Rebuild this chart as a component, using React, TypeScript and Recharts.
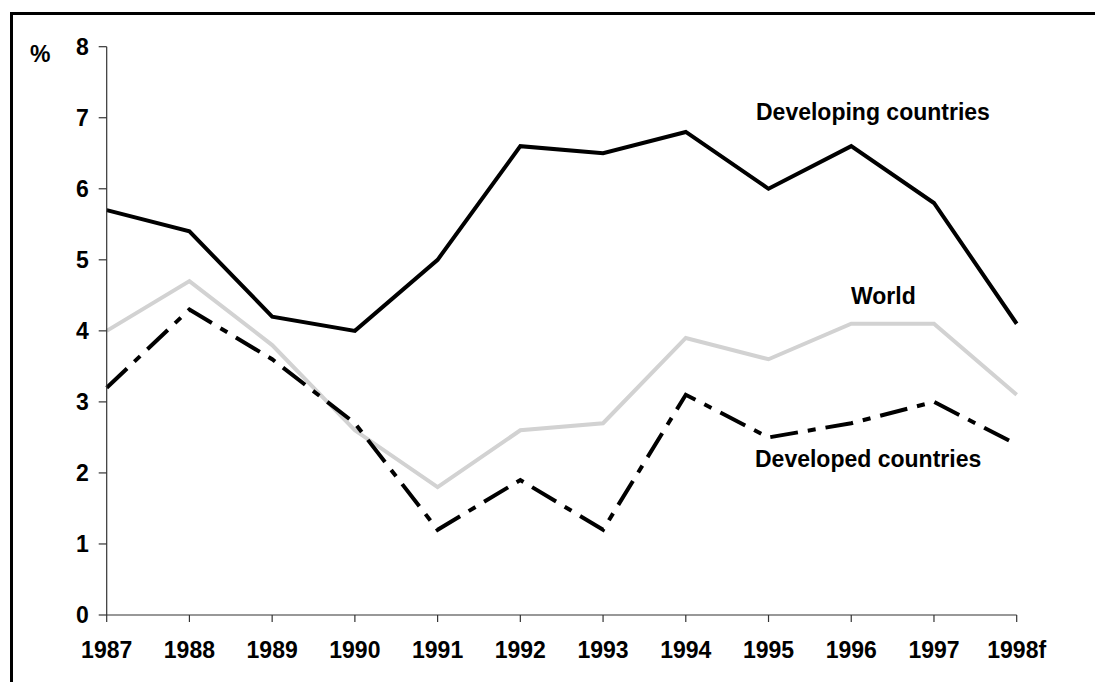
import React from 'react';
import { LineChart, Line, XAxis, YAxis } from 'recharts';

const years = ['1987', '1988', '1989', '1990', '1991', '1992', '1993', '1994', '1995', '1996', '1997', '1998f'];
const developing = [5.7, 5.4, 4.2, 4.0, 5.0, 6.6, 6.5, 6.8, 6.0, 6.6, 5.8, 4.1];
const world = [4.0, 4.7, 3.8, 2.6, 1.8, 2.6, 2.7, 3.9, 3.6, 4.1, 4.1, 3.1];
const developed = [3.2, 4.3, 3.6, 2.7, 1.2, 1.9, 1.2, 3.1, 2.5, 2.7, 3.0, 2.4];
const yTicks = [0, 1, 2, 3, 4, 5, 6, 7, 8];

const data = years.map((year, i) => ({
  year,
  developing: developing[i],
  world: world[i],
  developed: developed[i],
}));

const font = '"Liberation Sans", Arial, sans-serif';
const tickStyle = { fill: '#000', fontSize: 23, fontWeight: 700, fontFamily: font };

const label = (text: string, left: number, top: number) => (
  <div
    style={{
      position: 'absolute',
      left,
      top,
      fontFamily: font,
      fontSize: 23,
      fontWeight: 700,
      lineHeight: '23px',
      whiteSpace: 'nowrap',
      color: '#000',
    }}
  >
    {text}
  </div>
);

const App: React.FC = () => {
  return (
    <div style={{ position: 'fixed', left: 0, top: 0, width: 1095, height: 682, background: '#fff', overflow: 'hidden' }}>
      {/* frame, runs off the right and bottom edges */}
      <div
        style={{
          position: 'absolute',
          left: 10,
          top: 12,
          width: 1200,
          height: 800,
          borderTop: '3px solid #000',
          borderLeft: '3px solid #000',
        }}
      />
      <div style={{ position: 'absolute', left: 0, top: 0 }}>
        <LineChart width={1095} height={682} data={data} margin={{ top: 46.7, right: 78.3, left: 46.7, bottom: 37 }}>
          <XAxis
            dataKey="year"
            height={30}
            tick={tickStyle}
            tickSize={7}
            tickMargin={20}
            axisLine={{ stroke: '#333', strokeWidth: 1.2 }}
            tickLine={{ stroke: '#333', strokeWidth: 1.2 }}
            interval={0}
          />
          <YAxis
            width={60}
            domain={[0, 8]}
            ticks={yTicks}
            tick={tickStyle}
            tickSize={8}
            tickMargin={10}
            axisLine={{ stroke: '#333', strokeWidth: 1.2 }}
            tickLine={{ stroke: '#333', strokeWidth: 1.2 }}
            interval={0}
          />
          <Line
            dataKey="world"
            stroke="#d2d2d2"
            strokeWidth={4}
            dot={false}
            strokeLinejoin="miter"
            isAnimationActive={false}
          />
          <Line
            dataKey="developed"
            stroke="#000"
            strokeWidth={4}
            strokeDasharray="28 10 8 10"
            dot={false}
            strokeLinejoin="miter"
            isAnimationActive={false}
          />
          <Line
            dataKey="developing"
            stroke="#000"
            strokeWidth={4}
            dot={false}
            strokeLinejoin="miter"
            isAnimationActive={false}
          />
        </LineChart>
      </div>
      {label('%', 30, 42.5)}
      {label('Developing countries', 756, 100.5)}
      {label('World', 851, 284.5)}
      {label('Developed countries', 755, 447.5)}
    </div>
  );
};

export default App;
